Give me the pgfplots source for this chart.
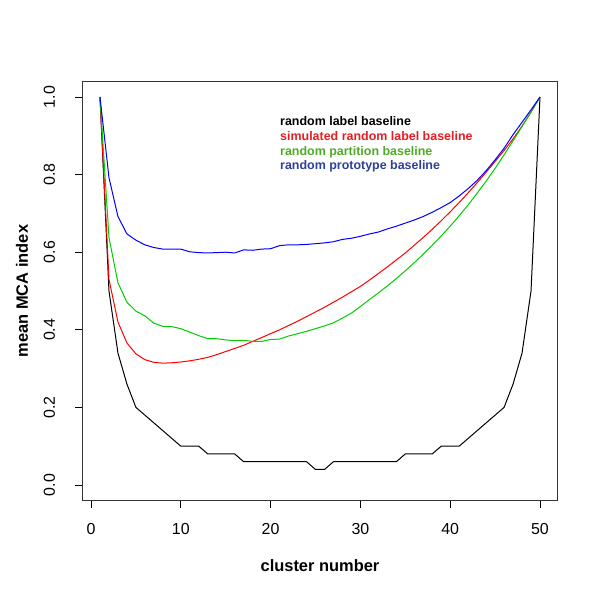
\documentclass[border=0pt]{standalone}
\usepackage{fontspec}
\setmainfont{Liberation Sans}
\usepackage{pgfplots}
\pgfplotsset{compat=1.18}
\usepackage{pgfplotstable}

\definecolor{lgreen}{RGB}{0,205,0}
\definecolor{tred}{RGB}{230,30,35}
\definecolor{tgreen}{RGB}{80,170,40}
\definecolor{tblue}{RGB}{45,65,155}

\pgfplotstableread{
x y
1 1.0
2 0.5
3 0.34
4 0.26
5 0.2
6 0.18
7 0.16
8 0.14
9 0.12
10 0.1
11 0.1
12 0.1
13 0.08
14 0.08
15 0.08
16 0.08
17 0.06
18 0.06
19 0.06
20 0.06
21 0.06
22 0.06
23 0.06
24 0.06
25 0.04
26 0.04
27 0.06
28 0.06
29 0.06
30 0.06
31 0.06
32 0.06
33 0.06
34 0.06
35 0.08
36 0.08
37 0.08
38 0.08
39 0.1
40 0.1
41 0.1
42 0.12
43 0.14
44 0.16
45 0.18
46 0.2
47 0.26
48 0.34
49 0.5
50 1.0
}\blacktab

\pgfplotstableread{
x y
1 1.0
2 0.53
3 0.42
4 0.366
5 0.338
6 0.323
7 0.316
8 0.314
9 0.315
10 0.317
11 0.320
12 0.324
13 0.329
14 0.336
15 0.344
16 0.352
17 0.360
18 0.370
19 0.380
20 0.390
21 0.400
22 0.411
23 0.422
24 0.434
25 0.446
26 0.458
27 0.471
28 0.484
29 0.498
30 0.512
31 0.528
32 0.545
33 0.562
34 0.580
35 0.598
36 0.618
37 0.638
38 0.659
39 0.681
40 0.704
41 0.728
42 0.753
43 0.779
44 0.806
45 0.834
46 0.862
47 0.892
48 0.925
49 0.961
50 1.0
}\redtab

\pgfplotstableread{
x y
1 1.0
2 0.638
3 0.521
4 0.471
5 0.448
6 0.436
7 0.417
8 0.409
9 0.408
10 0.403
11 0.394
12 0.385
13 0.377
14 0.377
15 0.374
16 0.372
17 0.373
18 0.370
19 0.370
20 0.375
21 0.376
22 0.384
23 0.390
24 0.396
25 0.403
26 0.410
27 0.418
28 0.430
29 0.443
30 0.460
31 0.478
32 0.495
33 0.513
34 0.532
35 0.552
36 0.573
37 0.595
38 0.618
39 0.642
40 0.667
41 0.694
42 0.722
43 0.752
44 0.783
45 0.816
46 0.851
47 0.887
48 0.924
49 0.962
50 1.0
}\greentab

\pgfplotstableread{
x y
1 1.0
2 0.792
3 0.692
4 0.647
5 0.631
6 0.619
7 0.612
8 0.608
9 0.608
10 0.608
11 0.601
12 0.599
13 0.598
14 0.599
15 0.600
16 0.598
17 0.606
18 0.605
19 0.608
20 0.609
21 0.617
22 0.619
23 0.619
24 0.620
25 0.622
26 0.624
27 0.627
28 0.633
29 0.636
30 0.641
31 0.647
32 0.652
33 0.660
34 0.667
35 0.675
36 0.683
37 0.692
38 0.703
39 0.715
40 0.728
41 0.745
42 0.764
43 0.785
44 0.810
45 0.838
46 0.868
47 0.903
48 0.935
49 0.967
50 1.0
}\bluetab

\begin{document}
\begin{tikzpicture}
\path[use as bounding box] (-82.4bp,-99.5bp) rectangle (517.6bp,500.5bp);
\begin{axis}[
  scale only axis, width=475.2bp, height=419bp,
  at={(0,0)}, anchor=south west,
  xmin=-0.96, xmax=51.96, ymin=-0.04, ymax=1.04,
  xtick={0,10,20,30,40,50},
  ytick={0,0.2,0.4,0.6,0.8,1.0},
  yticklabels={0.0,0.2,0.4,0.6,0.8,1.0},
  xtick pos=left, ytick pos=left,
  tick align=outside, major tick length=7bp,
  tick style={black, line width=0.8bp},
  axis line style={line width=1.2bp, draw=black!80},
  /pgf/number format/assume math mode=true,
  tick label style={font=\fontsize{16}{19}\selectfont},
  xticklabel style={anchor=base},
  xticklabel shift=26.5bp,
  yticklabel style={rotate=90, anchor=base},
  yticklabel shift=20.4bp,
  xlabel={\bfseries cluster number},
  ylabel={\bfseries mean MCA index},
  label style={font=\fontsize{16.5}{19}\selectfont},
  xlabel style={at={(axis description cs:0.5,-0.1706)}, anchor=base},
  ylabel style={at={(axis description cs:-0.1145,0.5)}, anchor=base},
  every axis plot/.append style={line width=1bp, line join=round},
]
\addplot[black, no markers] table[x=x, y=y] {\blacktab};
\addplot[red, no markers] table[x=x, y=y] {\redtab};
\addplot[lgreen, no markers] table[x=x, y=y] {\greentab};
\addplot[blue, no markers] table[x=x, y=y] {\bluetab};
\begin{scope}[every node/.style={anchor=base west, inner sep=0pt, font=\fontsize{12.5}{15}\selectfont\bfseries}]
\node[text=black] at (axis description cs:0.4158,0.8945) {random label baseline};
\node[text=tred] at (axis description cs:0.4158,0.8587) {simulated random label baseline};
\node[text=tgreen] at (axis description cs:0.4158,0.8239) {random partition baseline};
\node[text=tblue] at (axis description cs:0.4158,0.7888) {random prototype baseline};
\end{scope}
\end{axis}
\end{tikzpicture}
\end{document}
